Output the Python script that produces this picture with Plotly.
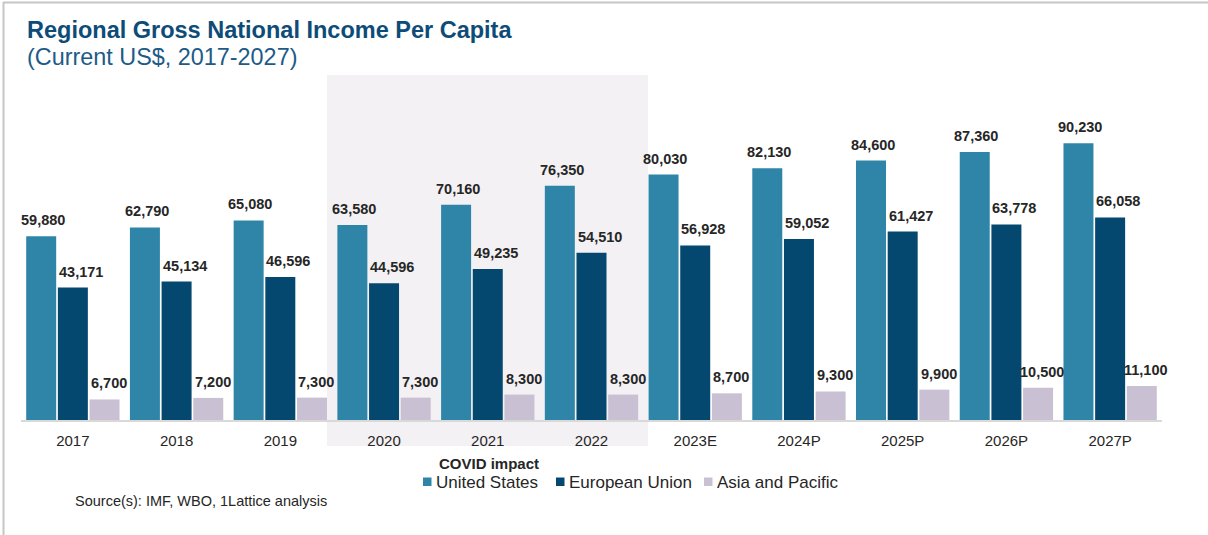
import plotly.graph_objects as go

# Regional gross national income per capita, current US$
years = ["2017", "2018", "2019", "2020", "2021", "2022",
         "2023E", "2024P", "2025P", "2026P", "2027P"]
united_states = [59880, 62790, 65080, 63580, 70160, 76350,
                 80030, 82130, 84600, 87360, 90230]
european_union = [43171, 45134, 46596, 44596, 49235, 54510,
                  56928, 59052, 61427, 63778, 66058]
asia_pacific = [6700, 7200, 7300, 7300, 8300, 8300,
                8700, 9300, 9900, 10500, 11100]
series_names = ["United States", "European Union", "Asia and Pacific"]

colors = ["#2e85a8", "#05486f", "#cac0d3"]
W, H = 1208, 535
ML, MR, MT, MB = 21, 46, 75, 115
PW, PH = W - ML - MR, H - MT - MB
FONT = "Liberation Sans, Arial, sans-serif"
TXT = "#262626"


def px_x(p):
    return (p - ML) / PW


def px_y(p):
    return (H - MB - p) / PH


fig = go.Figure()
series = [united_states, european_union, asia_pacific]
for name, vals, col in zip(series_names, series, colors):
    fig.add_trace(go.Bar(x=years, y=vals, name=name, marker_color=col,
                         marker_line_width=0, showlegend=False,
                         hoverinfo="x+y+name"))

# value labels above each bar (category index positions on the x axis)
label_shift = [-30, 8, 36]
annotations = []
for vals, dx in zip(series, label_shift):
    for i, v in enumerate(vals):
        annotations.append(dict(x=i, y=v, xref="x", yref="y",
                                text=f"{v:,}", showarrow=False,
                                xshift=dx, yshift=16, yanchor="middle",
                                font=dict(family=FONT, size=14.5, color=TXT,
                                          weight="bold")))

# titles
annotations.append(dict(x=px_x(25), y=px_y(30), xref="paper", yref="paper",
                        xanchor="left", yanchor="middle", showarrow=False,
                        text="<b>Regional Gross National Income Per Capita</b>",
                        font=dict(family=FONT, size=23.5, color="#0d4c78")))
annotations.append(dict(x=px_x(25), y=px_y(57), xref="paper", yref="paper",
                        xanchor="left", yanchor="middle", showarrow=False,
                        text="(Current US$, 2017-2027)",
                        font=dict(family=FONT, size=23.4, color="#1d5b87")))

# legend
annotations.append(dict(x=px_x(488.5), y=px_y(463), xref="paper", yref="paper",
                        xanchor="center", yanchor="middle", showarrow=False,
                        text="<b>COVID impact</b>",
                        font=dict(family=FONT, size=15, color=TXT)))
legend_sq = [423, 556, 704]
shapes = []
for name, col, sx in zip(series_names, colors, legend_sq):
    shapes.append(dict(type="rect", xref="paper", yref="paper",
                       x0=px_x(sx), x1=px_x(sx + 8.5),
                       y0=px_y(486), y1=px_y(477.5),
                       fillcolor=col, line_width=0))
    annotations.append(dict(x=px_x(sx + 11), y=px_y(482), xref="paper",
                            yref="paper", xanchor="left", yanchor="middle",
                            showarrow=False, text=name,
                            font=dict(family=FONT, size=17, color=TXT)))

annotations.append(dict(x=px_x(73), y=px_y(501), xref="paper", yref="paper",
                        xanchor="left", yanchor="middle", showarrow=False,
                        text="Source(s): IMF, WBO, 1Lattice analysis",
                        font=dict(family=FONT, size=14.5, color=TXT)))

# COVID impact shading behind 2020-2022
shapes.append(dict(type="rect", xref="paper", yref="paper", layer="below",
                   x0=px_x(327), x1=px_x(648), y0=px_y(446), y1=px_y(75),
                   fillcolor="#f3f1f4", line_width=0))

# frame lines
shapes.append(dict(type="line", xref="paper", yref="paper",
                   x0=px_x(3), x1=px_x(W), y0=px_y(2.5), y1=px_y(2.5),
                   line=dict(color="#c6c6c6", width=2)))
shapes.append(dict(type="line", xref="paper", yref="paper",
                   x0=px_x(3.5), x1=px_x(3.5), y0=px_y(2), y1=px_y(H),
                   line=dict(color="#c6c6c6", width=2)))

fig.update_layout(
    width=W, height=H,
    margin=dict(l=ML, r=MR, t=MT, b=MB, autoexpand=False),
    paper_bgcolor="white", plot_bgcolor="rgba(0,0,0,0)",
    barmode="group", bargap=0.084, bargroupgap=0.053,
    font=dict(family=FONT, color=TXT),
    annotations=annotations, shapes=shapes,
    xaxis=dict(type="category", range=[-0.5, len(years) - 0.5],
               showgrid=False, showline=True,
               linecolor="#d9d9d9", linewidth=2, ticks="",
               tickfont=dict(family=FONT, size=15, color=TXT),
               ticklabelstandoff=6, fixedrange=True),
    yaxis=dict(range=[0, 112500], visible=False, showgrid=False,
               zeroline=False, fixedrange=True),
)

fig.write_html("out.html")
